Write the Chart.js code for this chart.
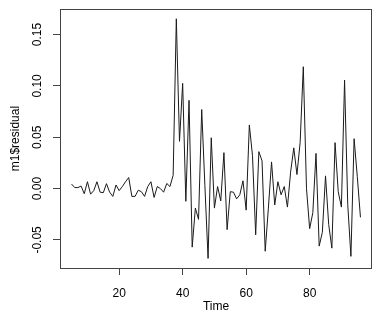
<!DOCTYPE html>
<html>
<head>
<meta charset="utf-8">
<script src="https://cdn.jsdelivr.net/npm/chart.js@4/dist/chart.umd.min.js"></script>
<style>
  html, body { margin: 0; padding: 0; background: #fff; }
  canvas { display: block; }
</style>
</head>
<body>
<canvas id="c" width="376" height="311"></canvas>
<script>
// ---- data ----
const timeStart = 5;
const residuals = [
  0.0044, 0.001, 0.001, 0.0025, -0.005, 0.0067, -0.0054, -0.002, 0.0067, -0.0035,
  -0.004, 0.0048, -0.0035, -0.0076, 0.0035, -0.002, 0.002, 0.0067, 0.0108, -0.0076,
  -0.0076, -0.0016, -0.003, -0.0076, 0.002, 0.0067, -0.0086, 0.002, 0.0, -0.0035,
  0.005, 0.002, 0.013, 0.1654, 0.046, 0.1025, -0.0124, 0.086, -0.057, -0.019,
  -0.030, 0.077, 0.003, -0.068, 0.0495, -0.019, 0.002, -0.012, 0.035, -0.040,
  -0.003, -0.0035, -0.010, -0.006, 0.0076, -0.021, 0.062, 0.032, -0.045, 0.036,
  0.027, -0.061, -0.019, 0.026, -0.016, 0.0067, -0.006, 0.002, -0.018, 0.016,
  0.0397, 0.0137, 0.0448, 0.1187, 0.0003, -0.039, -0.0235, 0.0343, -0.056, -0.0425,
  0.0124, -0.035, -0.058, 0.0448, -0.003, -0.018, 0.1057, -0.0155, -0.066, 0.0486,
  0.012, -0.028
];
const times = residuals.map((_, i) => timeStart + i);
const xTickValues = [20, 40, 60, 80];
const yTickValues = [-0.05, 0.00, 0.05, 0.10, 0.15];
const xTitle = 'Time';
const yTitle = 'm1$residual';

// R-style 4% axis extension
function rRange(arr) {
  const lo = Math.min(...arr), hi = Math.max(...arr);
  const ext = (hi - lo) * 0.04;
  return [lo - ext, hi + ext];
}
const [xMin, xMax] = rRange(times);
const [yMin, yMax] = rRange(residuals);

const FONT = "'Liberation Sans', Arial, sans-serif";

const boxPlugin = {
  id: 'box',
  afterDraw(chart) {
    const a = chart.chartArea, ctx = chart.ctx;
    ctx.save();
    ctx.strokeStyle = '#444';
    ctx.lineWidth = 1;
    ctx.strokeRect(Math.round(a.left) + 0.5, Math.round(a.top) + 0.5,
                   Math.round(a.right - a.left) - 1, Math.round(a.bottom - a.top));
    ctx.restore();
  }
};

new Chart(document.getElementById('c'), {
  type: 'line',
  data: {
    datasets: [{
      data: times.map((t, i) => ({ x: t, y: residuals[i] })),
      borderColor: '#1a1a1a',
      borderWidth: 1,
      pointRadius: 0,
      tension: 0,
      fill: false
    }]
  },
  options: {
    responsive: false,
    devicePixelRatio: 1,
    animation: false,
    layout: { padding: { top: 3, right: 4, left: 0, bottom: 0 } },
    plugins: { legend: { display: false }, tooltip: { enabled: false } },
    scales: {
      x: {
        type: 'linear',
        min: xMin, max: xMax,
        afterBuildTicks: s => { s.ticks = xTickValues.map(v => ({ value: v })); },
        afterFit: s => { s.height = 43; },
        grid: { drawOnChartArea: false, drawTicks: true, tickLength: 7, color: '#444', lineWidth: 1 },
        border: { display: false },
        ticks: { color: '#000', font: { family: FONT, size: 12 }, padding: 11, maxRotation: 0, minRotation: 0,
                 callback: v => String(v) },
        title: { display: true, text: xTitle, color: '#000', font: { family: FONT, size: 12 }, padding: { top: 0, bottom: -3 } }
      },
      y: {
        type: 'linear',
        min: yMin, max: yMax,
        afterBuildTicks: s => { s.ticks = yTickValues.map(v => ({ value: v })); },
        afterFit: s => { s.width = 60; },
        grid: { drawOnChartArea: false, drawTicks: true, tickLength: 7, color: '#444', lineWidth: 1 },
        border: { display: false },
        ticks: { color: '#000', font: { family: FONT, size: 12 }, padding: 2, minRotation: 90, maxRotation: 90,
                 crossAlign: 'center', callback: v => Number(v).toFixed(2) },
        title: { display: true, text: yTitle, color: '#000', font: { family: FONT, size: 12 }, padding: { top: 8, bottom: 0 } }
      }
    }
  },
  plugins: [boxPlugin]
});
</script>
</body>
</html>
